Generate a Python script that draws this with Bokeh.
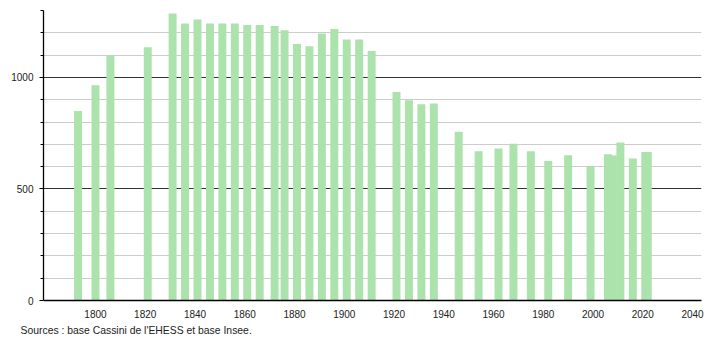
from bokeh.plotting import figure
from bokeh.models import FixedTicker, Range1d, Title, ColumnDataSource
from bokeh.embed import file_html
from bokeh.resources import INLINE

years = [1793, 1800, 1806, 1821, 1831, 1836, 1841, 1846, 1851, 1856, 1861, 1866,
         1872, 1876, 1881, 1886, 1891, 1896, 1901, 1906, 1911, 1921, 1926, 1931,
         1936, 1946, 1954, 1962, 1968, 1975, 1982, 1990, 1999, 2006, 2008, 2011,
         2016, 2021, 2022]
population = [849, 965, 1097, 1135, 1287, 1242, 1260, 1242, 1242, 1242, 1235, 1235,
              1230, 1212, 1150, 1140, 1197, 1217, 1170, 1170, 1118, 935, 898, 880,
              883, 756, 669, 681, 703, 669, 625, 651, 602, 656, 650, 708,
              636, 666, 666]
x_ticks = [1800, 1820, 1840, 1860, 1880, 1900, 1920, 1940, 1960, 1980, 2000, 2020, 2040]
y_major = [0, 500, 1000]
y_minor = [100, 200, 300, 400, 600, 700, 800, 900, 1100, 1200, 1300]
source_text = "Sources : base Cassini de l'EHESS et base Insee."

src = ColumnDataSource(data=dict(x=years, top=population))

p = figure(width=710, height=340, output_backend="svg", toolbar_location=None,
           x_range=Range1d(1779.1, 2043.6), y_range=Range1d(0, 1300),
           min_border_left=43, min_border_right=9, min_border_top=10,
           min_border_bottom=40, outline_line_color=None,
           background_fill_color="white", border_fill_color="white")

p.vbar(x="x", top="top", width=3.2, bottom=0, source=src,
       fill_color="#ace2ac", line_color=None)

# x axis
p.xaxis.ticker = FixedTicker(ticks=x_ticks)
p.xaxis.major_tick_line_color = None
p.xaxis.minor_tick_line_color = None
p.xaxis.axis_line_color = "black"
p.xaxis.axis_line_width = 1.3
p.xaxis.major_label_text_font = "Liberation Sans"
p.xaxis.major_label_text_font_size = "10px"
p.xaxis.major_label_text_color = "#222222"
p.xaxis.major_label_standoff = 3

# y axis
p.yaxis.ticker = FixedTicker(ticks=y_major, minor_ticks=y_minor)
p.yaxis.axis_line_color = "black"
p.yaxis.axis_line_width = 1.3
p.yaxis.major_tick_out = 4
p.yaxis.major_tick_in = 0
p.yaxis.minor_tick_out = 3
p.yaxis.minor_tick_in = 0
p.yaxis.major_tick_line_color = "black"
p.yaxis.minor_tick_line_color = "black"
p.yaxis.major_label_text_font = "Liberation Sans"
p.yaxis.major_label_text_font_size = "10px"
p.yaxis.major_label_text_color = "#222222"
p.yaxis.major_label_standoff = 6

# grids
p.xgrid.grid_line_color = None
p.ygrid.ticker = FixedTicker(ticks=y_major, minor_ticks=y_minor)
p.ygrid.grid_line_color = "#333333"
p.ygrid.grid_line_width = 1.1
p.ygrid.minor_grid_line_color = "#cccccc"
p.ygrid.minor_grid_line_width = 1.1

src_title = Title(text=source_text, align="left", offset=-23, standoff=4,
                  text_font="Liberation Sans", text_font_size="10.4px",
                  text_font_style="normal", text_color="#222222")
p.add_layout(src_title, "below")

open("out.html", "w").write(file_html(p, INLINE))
